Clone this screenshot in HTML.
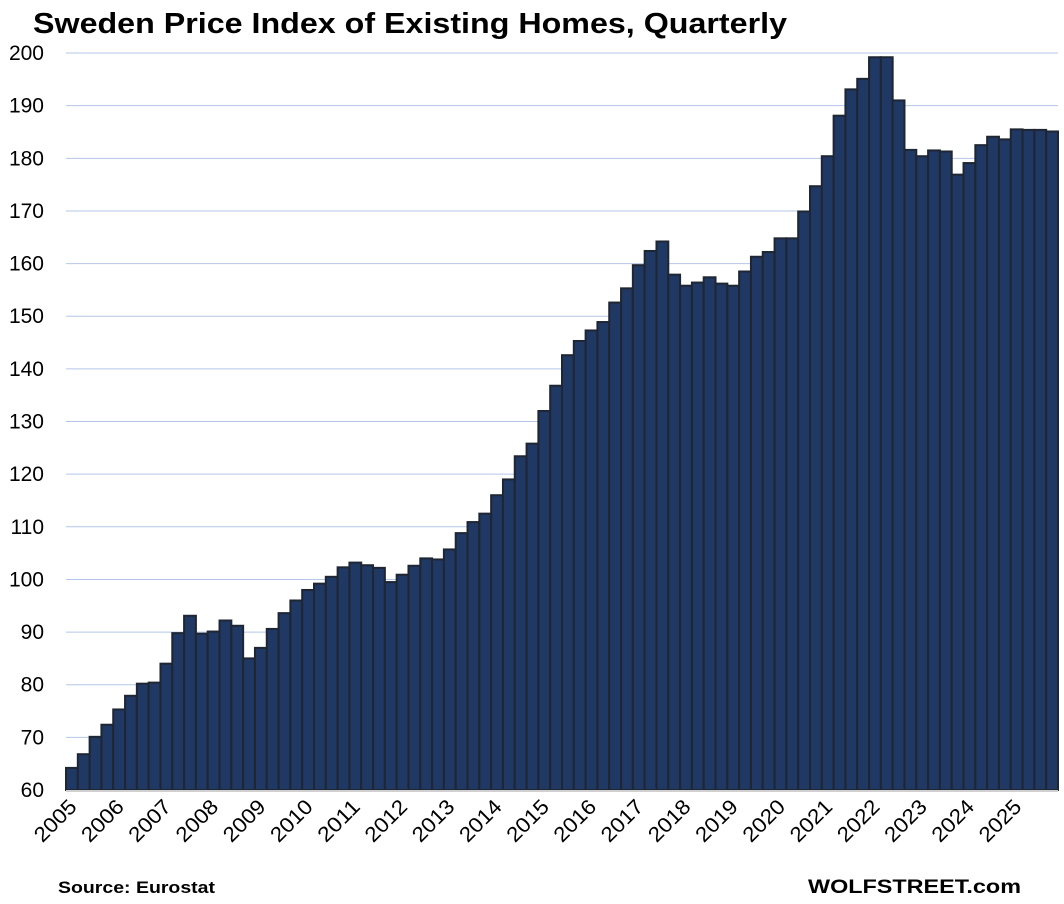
<!DOCTYPE html>
<html><head><meta charset="utf-8"><style>
html,body{margin:0;padding:0;background:#fff;}
svg{display:block;font-family:"Liberation Sans",sans-serif;}
</style></head><body>
<svg id="c" width="1064" height="904" viewBox="0 0 1064 904" xmlns="http://www.w3.org/2000/svg">
<text x="33" y="33" font-size="29" font-weight="bold" textLength="754" lengthAdjust="spacingAndGlyphs">Sweden Price Index of Existing Homes, Quarterly</text>
<text x="58" y="893" font-size="17" font-weight="bold" textLength="157" lengthAdjust="spacingAndGlyphs">Source: Eurostat</text>
<text x="808" y="893" font-size="19" font-weight="bold" textLength="213" lengthAdjust="spacingAndGlyphs">WOLFSTREET.com</text>
<g id="g"></g>
</svg>
<script>
var v=[64.2,66.8,70.1,72.4,75.3,77.9,80.2,80.4,84,89.8,93.1,89.7,90.1,92.2,91.2,85,87,90.6,93.6,96,98,99.2,100.5,102.3,103.2,102.7,102.2,99.5,100.9,102.6,104,103.8,105.7,108.8,110.9,112.5,116,119,123.4,125.8,132,136.8,142.6,145.3,147.3,148.9,152.6,155.3,159.7,162.4,164.2,157.9,155.8,156.4,157.4,156.2,155.8,158.5,161.3,162.2,164.8,164.8,169.9,174.7,180.4,188.1,193.1,195.1,199.2,199.2,191,181.6,180.4,181.5,181.3,176.9,179.1,182.5,184.1,183.6,185.5,185.4,185.4,185.1];
var s='',y0=790,k=5.264,x0=66,w=992/84;
for(var t=60;t<=200;t+=10){var y=y0-(t-60)*k;
 if(t>60)s+='<line x1="66" x2="1058" y1="'+y+'" y2="'+y+'" stroke="#b4c7e7" stroke-width="1"/>';
 s+='<text x="44" y="'+(y+7)+'" font-size="21" text-anchor="end">'+t+'</text>';}
for(var i=0;i<v.length;i++){var x=x0+i*w,y=y0-(v[i]-60)*k;
 s+='<rect x="'+x+'" y="'+y+'" width="'+w+'" height="'+(y0-y)+'" fill="#203864" stroke="#1f2633" stroke-width="2"/>';}
s+='<line x1="66" x2="1058" y1="791" y2="791" stroke="#d0d0d0" stroke-width="2"/>';
for(var yr=0;yr<21;yr++){var cx=x0+yr*4*w+w/2;
 s+='<text transform="translate('+(cx+6)+',808) rotate(-45)" font-size="21" text-anchor="end" textLength="50" lengthAdjust="spacingAndGlyphs">'+(2005+yr)+'</text>';}
document.getElementById('g').innerHTML=s;
</script>
</body></html>
